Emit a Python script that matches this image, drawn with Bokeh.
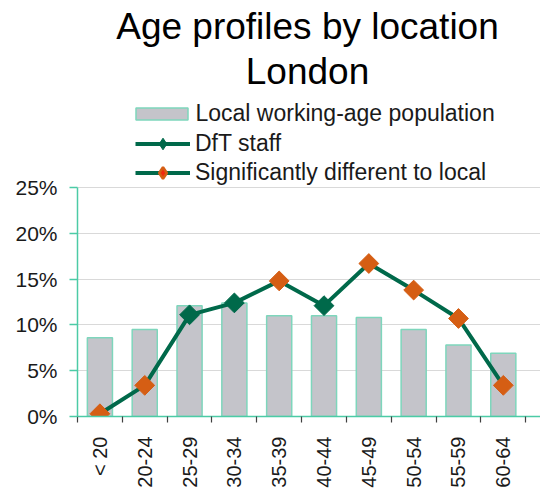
import math
from bokeh.plotting import figure
from bokeh.models import (Range1d, FixedTicker, PrintfTickFormatter, Legend,
                          LegendItem, Label)
from bokeh.embed import file_html
from bokeh.resources import INLINE

# ---- data ----
categories = ["< 20", "20-24", "25-29", "30-34", "35-39",
              "40-44", "45-49", "50-54", "55-59", "60-64"]
local_pop = [8.6, 9.5, 12.1, 12.4, 11.0, 11.0, 10.8, 9.5, 7.8, 6.9]
dft_staff = [0.3, 3.4, 11.1, 12.4, 14.8, 12.1, 16.7, 13.8, 10.7, 3.4]
significant = [True, True, False, False, True, False, True, True, True, True]
y_ticks = [0, 5, 10, 15, 20, 25]
title_lines = ["Age profiles by location", "London"]

FONT = "Liberation Sans"
GREEN = "#00694A"
ORANGE = "#D55E14"
TEAL = "#4CCBA6"

x = [i + 0.5 for i in range(len(categories))]
x_sig = [xi for xi, s in zip(x, significant) if s]
y_sig = [yi for yi, s in zip(dft_staff, significant) if s]
x_ns = [xi for xi, s in zip(x, significant) if not s]
y_ns = [yi for yi, s in zip(dft_staff, significant) if not s]

p = figure(width=540, height=490, title=None,
           x_range=Range1d(0, 10.33), y_range=Range1d(0, 45.41),
           output_backend="svg", toolbar_location=None,
           min_border_left=77, min_border_right=0, min_border_top=0,
           min_border_bottom=74)
p.outline_line_color = None
p.background_fill_color = "white"
p.border_fill_color = "white"

bars = p.vbar(x=x, top=local_pop, width=0.56, fill_color="#C4C4CA",
              line_color="#7ED6BC", line_width=1.5)
line = p.line(x, dft_staff, line_color=GREEN, line_width=4)
# small diamonds (hidden under the big markers) that give the legend its glyphs
ns_leg = p.scatter(x_ns, y_ns, marker="diamond", size=12,
                   fill_color=GREEN, line_color=GREEN)
sig_leg = p.scatter(x_sig, y_sig, marker="diamond", size=12,
                    fill_color="#F02A10", line_color=ORANGE, line_width=2.5)
ns = p.scatter(x_ns, y_ns, marker="square", angle=math.pi / 4, size=14,
               fill_color=GREEN, line_color=GREEN)
sig = p.scatter(x_sig, y_sig, marker="square", angle=math.pi / 4, size=14,
                fill_color=ORANGE, line_color=ORANGE)

# y axis
p.yaxis.ticker = FixedTicker(ticks=y_ticks)
p.yaxis.formatter = PrintfTickFormatter(format="%d%%")
p.yaxis.bounds = (0, 25)
p.yaxis.axis_line_color = TEAL
p.yaxis.axis_line_width = 1.5
p.yaxis.major_tick_line_color = TEAL
p.yaxis.major_tick_line_width = 1.5
p.yaxis.major_tick_out = 8
p.yaxis.major_tick_in = 0
p.yaxis.minor_tick_line_color = None
p.yaxis.major_label_standoff = 12
p.yaxis.major_label_text_font = FONT
p.yaxis.major_label_text_font_size = "21px"
p.yaxis.major_label_text_color = "#1a1a1a"

# x axis
p.xaxis.ticker = FixedTicker(ticks=x, minor_ticks=list(range(len(categories) + 1)))
p.xaxis.major_label_overrides = {xi: c for xi, c in zip(x, categories)}
p.xaxis.major_label_orientation = math.pi / 2
p.xaxis.axis_line_color = TEAL
p.xaxis.axis_line_width = 1.5
p.xaxis.major_tick_line_color = None
p.xaxis.major_tick_out = 0
p.xaxis.major_tick_in = 0
p.xaxis.minor_tick_line_color = "#404040"
p.xaxis.minor_tick_line_width = 1.2
p.xaxis.minor_tick_out = 6
p.xaxis.minor_tick_in = 0
p.xaxis.major_label_standoff = 14
p.xaxis.major_label_text_font = FONT
p.xaxis.major_label_text_font_size = "20px"
p.xaxis.major_label_text_color = "#1a1a1a"

# grids
p.xgrid.grid_line_color = None
p.ygrid.ticker = FixedTicker(ticks=y_ticks)
p.ygrid.bounds = (0, 25)
p.ygrid.grid_line_color = "#D9D9D9"
p.ygrid.grid_line_width = 1

# legends
legend_style = dict(padding=0, margin=0, spacing=0, border_line_color=None,
                    background_fill_alpha=0, label_height=29,
                    label_text_font=FONT, label_text_font_size="23px",
                    label_text_color="#1a1a1a")
bar_legend = Legend(items=[
    LegendItem(label="Local working-age population", renderers=[bars]),
], location=(51.5, 288.5), glyph_width=65, glyph_height=15,
    label_standoff=2, **legend_style)
line_legend = Legend(items=[
    LegendItem(label="DfT staff", renderers=[line, ns_leg]),
    LegendItem(label="Significantly different to local", renderers=[line, sig_leg]),
], location=(58, 229.5), glyph_width=55, glyph_height=29,
    label_standoff=5, **legend_style)
p.add_layout(bar_legend)
p.add_layout(line_legend)

# title (two lines)
for txt, yy in zip(title_lines, [390, 345]):
    p.add_layout(Label(x=230, y=yy, x_units="screen", y_units="screen",
                       text=txt, text_align="center",
                       text_baseline="alphabetic", text_font=FONT,
                       text_font_size="37px", text_color="#000000"))

open("out.html", "w").write(file_html(p, INLINE))
